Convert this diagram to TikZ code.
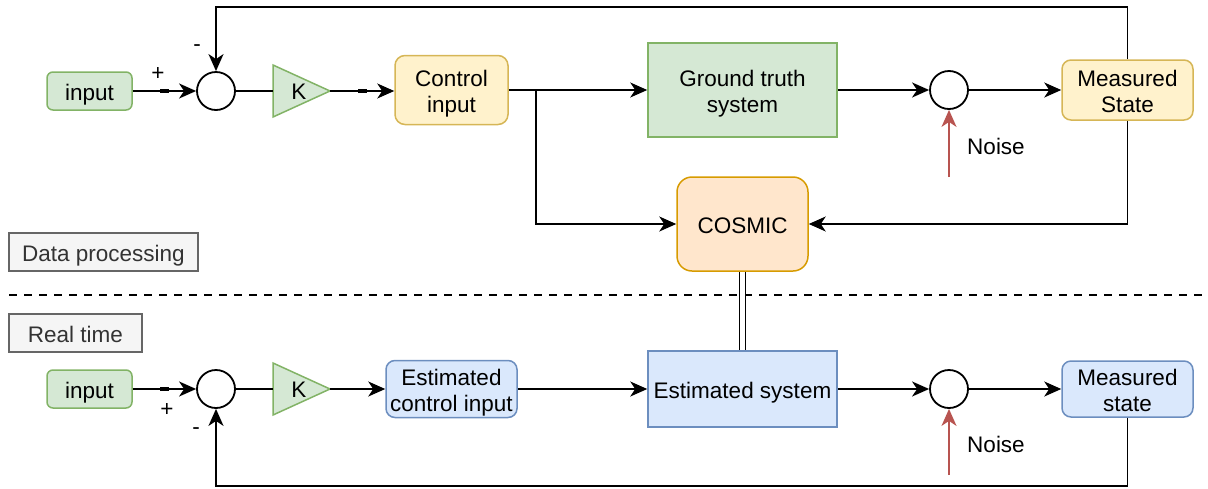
\documentclass[tikz,border=0pt]{standalone}
\usepackage{fontspec}
\setmainfont{Liberation Sans}
\usetikzlibrary{arrows.meta}

\definecolor{gfill}{HTML}{D5E8D4}
\definecolor{gline}{HTML}{82B366}
\definecolor{yfill}{HTML}{FFF2CC}
\definecolor{yline}{HTML}{D6B656}
\definecolor{ofill}{HTML}{FFE6CC}
\definecolor{oline}{HTML}{D79B00}
\definecolor{bfill}{HTML}{DAE8FC}
\definecolor{bline}{HTML}{6C8EBF}
\definecolor{tagfill}{HTML}{F5F5F5}
\definecolor{tagline}{HTML}{666666}
\definecolor{tagtext}{HTML}{333333}
\definecolor{noisecol}{HTML}{B85450}

% struts that give every line of box text the same height and depth
\newcommand{\hstrut}{\rule{0pt}{23pt}}
\newcommand{\dstrut}{\rule[-5pt]{0pt}{0pt}}

\begin{document}
\begin{tikzpicture}[x=1pt, y=-1pt,
  font=\fontsize{22.5}{26}\selectfont,
  blk/.style={draw, inner sep=0pt, align=center, line width=1.5pt},
  greenbox/.style={blk, fill=gfill, draw=gline},
  yellowbox/.style={blk, fill=yfill, draw=yline},
  bluebox/.style={blk, fill=bfill, draw=bline},
  orangebox/.style={blk, fill=ofill, draw=oline},
  tagbox/.style={blk, fill=tagfill, draw=tagline, text=tagtext},
  sumnode/.style={circle, draw, line width=1.8pt, minimum size=38pt, inner sep=0pt, fill=white},
  gain/.style={draw=gline, fill=gfill, line width=1.5pt, line join=miter},
  wire/.style={line width=1.8pt},
  arr/.style={wire, -{Stealth[length=17pt, width=15pt, inset=5pt]}},
  noisearr/.style={line width=1.8pt, draw=noisecol, -{Stealth[length=17pt, width=15pt, inset=5pt, fill=noisecol]}},
  tick/.style={line width=3.6pt},
  sign/.style={inner sep=0pt}
]
\useasboundingbox (0,0) rectangle (1208,488);

% ---------- section tags and divider ----------
\node[tagbox, minimum width=189pt, minimum height=38pt] (tagdp) at (103.5,252) {\hstrut Data processing\dstrut};
\node[tagbox, minimum width=133pt, minimum height=38pt] (tagrt) at (75.5,333) {\hstrut Real time\dstrut};
\coordinate (divl) at (9,295);
\coordinate (divr) at (1208,295);
\draw[line width=1.5pt, dash pattern=on 8pt off 7pt] (divl) -- (divr);

% ---------- upper loop (data processing) ----------
\node[greenbox, rounded corners=6pt, minimum width=85pt, minimum height=38pt] (in1) at (89.5,91) {\hstrut input\dstrut};
\node[sumnode] (sum1) at (216,91) {};
\draw[gain] (273,65) -- (330,91) -- (273,117) -- cycle;
\node[sign] (k1) at (299,92) {K};
\coordinate (k1w) at (273,91);
\coordinate (k1e) at (330,91);
\node[yellowbox, rounded corners=10pt, minimum width=113pt, minimum height=69pt] (ctrl) at (451.5,90) {\hstrut Control\\input\dstrut};
\node[greenbox, minimum width=189pt, minimum height=94pt] (gt) at (742.5,90) {\hstrut Ground truth\\system\dstrut};
\node[sumnode] (sum2) at (949,90) {};
\node[yellowbox, rounded corners=9pt, minimum width=131pt, minimum height=60pt] (ms1) at (1127.5,90) {\hstrut Measured\\State\dstrut};
\node[orangebox, rounded corners=15pt, minimum width=131pt, minimum height=94pt] (cosmic) at (742.5,224) {\hstrut COSMIC\dstrut};
\node[sign] (plus1) at (158,74) {+};
\node[sign] (minus1) at (197,48) {-};
\node[sign] (noise1) at (996,146) {Noise};

\draw[arr] (in1) -- (sum1);
\draw[tick] (160,91) -- (169,91);
\draw[wire] (sum1) -- (k1w);
\draw[arr] (k1e) -- (k1e -| ctrl.west);
\draw[tick] (358,91) -- (367,91);
\draw[arr] (ctrl) -- (gt);
\coordinate (br1) at (536,90);
\draw[arr] (br1) |- (cosmic.west);
\draw[arr] (gt) -- (sum2);
\draw[arr] (sum2) -- (ms1);
\coordinate (nz1) at (949,177);
\draw[noisearr] (nz1) -- (sum2.south);
\coordinate (topy) at (0,7);
\draw[arr] (ms1.north) |- (sum1 |- topy) -- (sum1.north);
\draw[arr] (ms1.south) |- (cosmic.east);

% ---------- lower loop (real time) ----------
\node[greenbox, rounded corners=6pt, minimum width=85pt, minimum height=38pt] (in2) at (89.5,389) {\hstrut input\dstrut};
\node[sumnode] (sum3) at (216,389) {};
\draw[gain] (273,363) -- (330,389) -- (273,415) -- cycle;
\node[sign] (k2) at (299,390) {K};
\coordinate (k2w) at (273,389);
\coordinate (k2e) at (330,389);
\node[bluebox, rounded corners=9pt, minimum width=131pt, minimum height=57pt] (ectrl) at (451.5,389) {\hstrut Estimated\\control input\dstrut};
\node[bluebox, minimum width=189pt, minimum height=76pt] (es) at (742.5,389) {\hstrut Estimated system\dstrut};
\node[sumnode] (sum4) at (949,389) {};
\node[bluebox, rounded corners=9pt, minimum width=131pt, minimum height=56pt] (ms2) at (1127.5,389) {\hstrut Measured\\state\dstrut};
\node[sign] (plus2) at (167,410) {+};
\node[sign] (minus2) at (196,431) {-};
\node[sign] (noise2) at (996,444) {Noise};

\draw[arr] (in2) -- (sum3);
\draw[tick] (160,389) -- (169,389);
\draw[wire] (sum3) -- (k2w);
\draw[arr] (k2e) -- (k2e -| ectrl.west);
\draw[arr] (ectrl) -- (es);
\draw[arr] (es) -- (sum4);
\draw[arr] (sum4) -- (ms2);
\coordinate (nz2) at (949,475);
\draw[noisearr] (nz2) -- (sum4.south);
\coordinate (boty) at (0,486);
\draw[arr] (ms2.south) |- (sum3 |- boty) -- (sum3.south);

% ---------- link between the two systems ----------
\draw[line width=1.5pt, double, double distance=4.5pt] (cosmic.south) -- (es.north);
\end{tikzpicture}
\end{document}
